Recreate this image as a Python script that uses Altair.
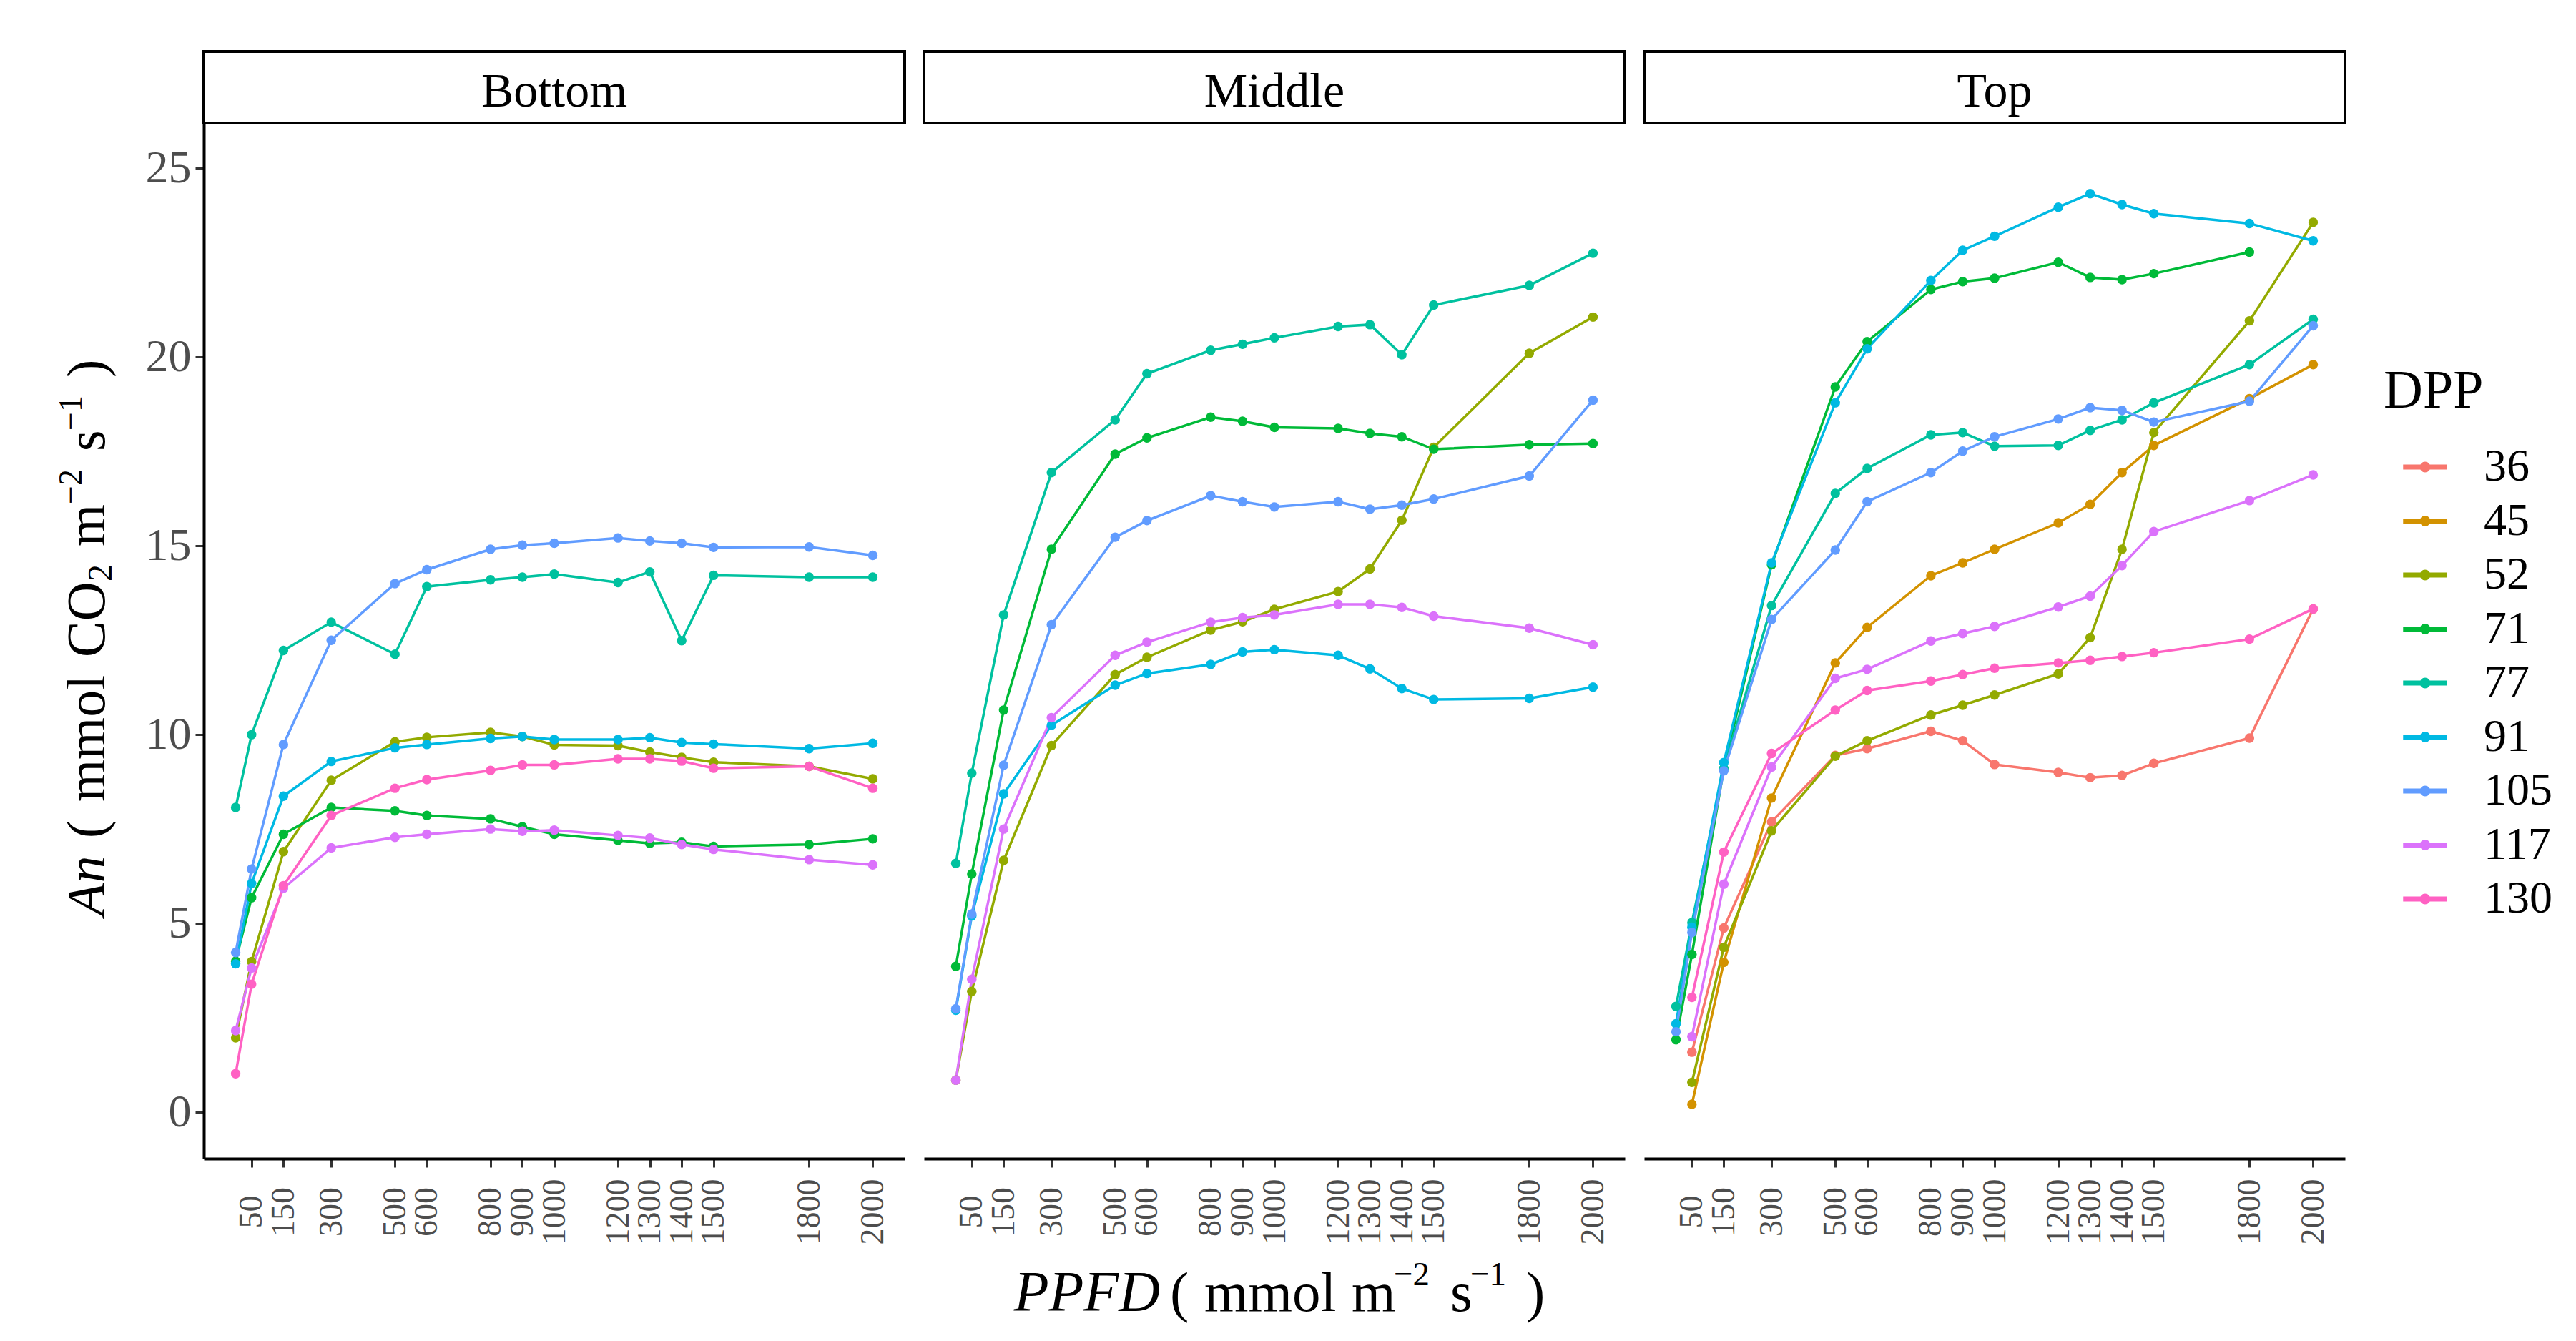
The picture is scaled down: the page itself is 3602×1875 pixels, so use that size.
import altair as alt
import pandas as pd

# PPFD levels measured, and the ones that carry a tick label
ppfd = [0, 50, 150, 300, 500, 600, 800, 900, 1000, 1200, 1300, 1400, 1500, 1800, 2000]
x_ticks = [50, 150, 300, 500, 600, 800, 900, 1000, 1200, 1300, 1400, 1500, 1800, 2000]
y_ticks = [0, 5, 10, 15, 20, 25]

dpp_levels = ["36", "45", "52", "71", "77", "91", "105", "117", "130"]
hue = ["#F8766D", "#D39200", "#93AA00", "#00BA38", "#00C19F",
       "#00B9E3", "#619CFF", "#DB72FB", "#FF61C3"]

positions = ["Bottom", "Middle", "Top"]

# An values, one per PPFD level (None = not measured)
bottom = {
    "52": [1.97, 3.99, 6.9, 8.79, 9.81, 9.93, 10.06, 9.95, 9.73, 9.71, 9.54, 9.4, 9.27, 9.16, 8.83],
    "71": [4.0, 5.68, 7.36, 8.07, 7.98, 7.86, 7.77, 7.56, 7.36, 7.2, 7.12, 7.15, 7.04, 7.09, 7.24],
    "77": [8.07, 10.0, 12.23, 12.98, 12.13, 13.92, 14.1, 14.17, 14.25, 14.03, 14.31, 12.49, 14.22, 14.17, 14.17],
    "91": [3.93, 6.06, 8.37, 9.29, 9.65, 9.74, 9.9, 9.95, 9.87, 9.87, 9.92, 9.79, 9.75, 9.63, 9.77],
    "105": [4.23, 6.44, 9.74, 12.5, 14.0, 14.37, 14.91, 15.02, 15.07, 15.21, 15.13, 15.07, 14.96, 14.97, 14.75],
    "117": [2.16, 3.82, 5.93, 7.0, 7.28, 7.36, 7.5, 7.44, 7.47, 7.33, 7.26, 7.09, 6.96, 6.69, 6.55],
    "130": [1.02, 3.39, 6.0, 7.86, 8.58, 8.81, 9.05, 9.2, 9.2, 9.36, 9.36, 9.3, 9.11, 9.16, 8.58],
}
middle = {
    "52": [0.85, 3.2, 6.67, 9.71, 11.59, 12.05, 12.77, 12.99, 13.32, 13.79, 14.39, 15.68, 17.61, 20.1, 21.06],
    "71": [3.86, 6.31, 10.65, 14.91, 17.43, 17.86, 18.41, 18.3, 18.14, 18.11, 17.98, 17.89, 17.56, 17.68, 17.71],
    "77": [6.59, 8.98, 13.17, 16.94, 18.34, 19.56, 20.18, 20.34, 20.51, 20.81, 20.86, 20.06, 21.38, 21.9, 22.75],
    "91": [2.7, 5.2, 8.43, 10.25, 11.31, 11.62, 11.86, 12.19, 12.25, 12.1, 11.74, 11.22, 10.93, 10.96, 11.26],
    "105": [2.74, 5.25, 9.19, 12.91, 15.23, 15.67, 16.33, 16.17, 16.03, 16.17, 15.97, 16.08, 16.24, 16.85, 18.86],
    "117": [0.85, 3.52, 7.5, 10.45, 12.1, 12.45, 12.98, 13.1, 13.17, 13.45, 13.45, 13.37, 13.14, 12.82, 12.38],
}
top = {
    "36": [None, 1.59, 4.88, 7.69, 9.45, 9.63, 10.09, 9.84, 9.21, 9.0, 8.86, 8.92, 9.24, 9.91, 13.33],
    "45": [None, 0.21, 3.97, 8.32, 11.9, 12.84, 14.21, 14.55, 14.91, 15.61, 16.1, 16.94, 17.66, 18.9, 19.8],
    "52": [None, 0.79, 4.37, 7.45, 9.43, 9.84, 10.52, 10.78, 11.05, 11.61, 12.57, 14.91, 18.0, 20.96, 23.57],
    "71": [1.92, 4.18, 9.1, 14.5, 19.21, 20.41, 21.79, 22.0, 22.09, 22.51, 22.11, 22.05, 22.21, 22.78, None],
    "77": [2.8, 5.02, 9.1, 13.42, 16.39, 17.05, 17.94, 18.0, 17.64, 17.66, 18.06, 18.34, 18.79, 19.8, 21.0],
    "91": [2.34, 4.9, 9.26, 14.55, 18.79, 20.22, 22.03, 22.83, 23.2, 23.97, 24.33, 24.04, 23.8, 23.54, 23.08],
    "105": [2.13, 4.76, 9.04, 13.05, 14.89, 16.17, 16.94, 17.51, 17.89, 18.36, 18.66, 18.59, 18.28, 18.83, 20.83],
    "117": [None, 2.0, 6.04, 9.14, 11.49, 11.73, 12.48, 12.68, 12.87, 13.38, 13.67, 14.48, 15.38, 16.2, 16.88],
    "130": [None, 3.04, 6.89, 9.5, 10.65, 11.17, 11.42, 11.59, 11.76, 11.9, 11.97, 12.07, 12.17, 12.53, 13.33],
}

rows = []
for pos, series in zip(positions, [bottom, middle, top]):
    for dpp, vals in series.items():
        for x, v in zip(ppfd, vals):
            if v is not None:
                rows.append({"position": pos, "dpp": dpp, "ppfd": x, "an": v})
df = pd.DataFrame(rows)
one = pd.DataFrame({"k": [0]})

W, H = 980, 1448
SERIF = "Liberation Serif"

# line-and-dot key, like ggplot's
key_path = ("M-1,-0.06L1,-0.06L1,0.06L-1,0.06Z M-1,0L1,0 "
            "M0.05,0A0.05,0.05 0 1,1 -0.05,0A0.05,0.05 0 1,1 0.05,0Z "
            "M0.13,0A0.13,0.13 0 1,1 -0.13,0A0.13,0.13 0 1,1 0.13,0Z "
            "M0.2,0A0.2,0.2 0 1,1 -0.2,0A0.2,0.2 0 1,1 0.2,0Z")

color = alt.Color(
    "dpp:N",
    scale=alt.Scale(domain=dpp_levels, range=hue),
    legend=alt.Legend(
        title="DPP", orient="none", legendX=3048, legendY=338, padding=0,
        titleFont=SERIF, titleFontSize=76, titleFontWeight="normal", titleColor="black",
        titlePadding=35, labelFont=SERIF, labelFontSize=64, labelColor="black",
        symbolType=key_path, symbolSize=3364, symbolStrokeWidth=3.5,
        symbolOffset=26, labelOffset=50, rowPadding=11.5,
    ),
)


def label(text, x, y, size=79, style="normal", angle=0, align="left"):
    return alt.Chart(one).mark_text(
        text=text, font=SERIF, fontSize=size, fontStyle=style, color="black",
        angle=angle, align=align, baseline="alphabetic",
    ).encode(x=alt.value(x), y=alt.value(y))


def y_title():
    # pieces of the rotated title, bottom to top
    bx = -139
    return [
        label("An", bx, 1109, size=76, style="italic", angle=270),
        label("(", bx, 1000, size=76, angle=270),
        label("mmol", bx, 949, size=76, angle=270),
        label("CO", bx, 747, size=76, angle=270),
        label("2", bx + 10, 641, size=48, angle=270),
        label("m", bx, 592, size=76, angle=270),
        label("−2", bx - 32, 533, size=46, angle=270),
        label("s", bx, 459, size=76, angle=270),
        label("−1", bx - 32, 430, size=46, angle=270),
        label(")", bx, 356, size=76, angle=270),
    ]


def x_title():
    by = H + 213
    return [
        label("PPFD", 330, by, size=80, style="italic", align="right"),
        label("(", 344, by),
        label("mmol", 392, by),
        label("m", 598, by),
        label("−2", 657, by - 36, size=47),
        label("s", 736, by),
        label("−1", 764, by - 36, size=47),
        label(")", 842, by),
    ]


def panel(name, first):
    x = alt.X(
        "ppfd:Q",
        scale=alt.Scale(domain=[-100, 2100], nice=False, zero=False),
        axis=alt.Axis(
            values=x_ticks, format="d", title=None, grid=False, labelAngle=270,
            labelAlign="center", labelBaseline="middle", labelPadding=62,
            labelFont=SERIF, labelFontSize=46, labelColor="#4D4D4D",
            labelOverlap=False, labelFlush=False, labelBound=False,
            tickSize=12, tickWidth=3, tickColor="#333333",
            domainColor="black", domainWidth=4,
        ),
    )
    if first:
        y_axis = alt.Axis(
            values=y_ticks, title=None, grid=False,
            labelFont=SERIF, labelFontSize=64, labelColor="#4D4D4D", labelPadding=6,
            tickSize=12, tickWidth=3, tickColor="#333333",
            domainColor="black", domainWidth=4,
        )
    else:
        y_axis = None
    y = alt.Y("an:Q", scale=alt.Scale(domain=[-1.23, 26.2], nice=False, zero=False), axis=y_axis)

    base = alt.Chart(df).transform_filter(alt.datum.position == name)
    lines = base.mark_line(strokeWidth=3.5).encode(x=x, y=y, color=color, detail="dpp:N")
    dots = base.mark_circle(size=180, opacity=1).encode(x=x, y=y, color=color)

    strip = alt.Chart(one).mark_rect(fill="white", stroke="black", strokeWidth=4).encode(
        x=alt.value(0), x2=alt.value(W), y=alt.value(-100), y2=alt.value(0)
    )
    strip_text = label(name, W / 2, -23, size=68, align="center")

    layers = [lines, dots, strip, strip_text]
    if first:
        layers += y_title()
    if name == "Middle":
        layers += x_title()

    return alt.layer(*layers).properties(width=W, height=H)


chart = (
    alt.hconcat(*[panel(p, i == 0) for i, p in enumerate(positions)], spacing=27, bounds="flush")
    .resolve_scale(color="shared")
    .resolve_legend(color="shared")
    .properties(padding={"left": 69, "top": 62, "right": 10, "bottom": 10}, background="white")
    .configure_view(stroke=None)
)

chart.save("out.html", embed_options={"renderer": "svg", "actions": False})
